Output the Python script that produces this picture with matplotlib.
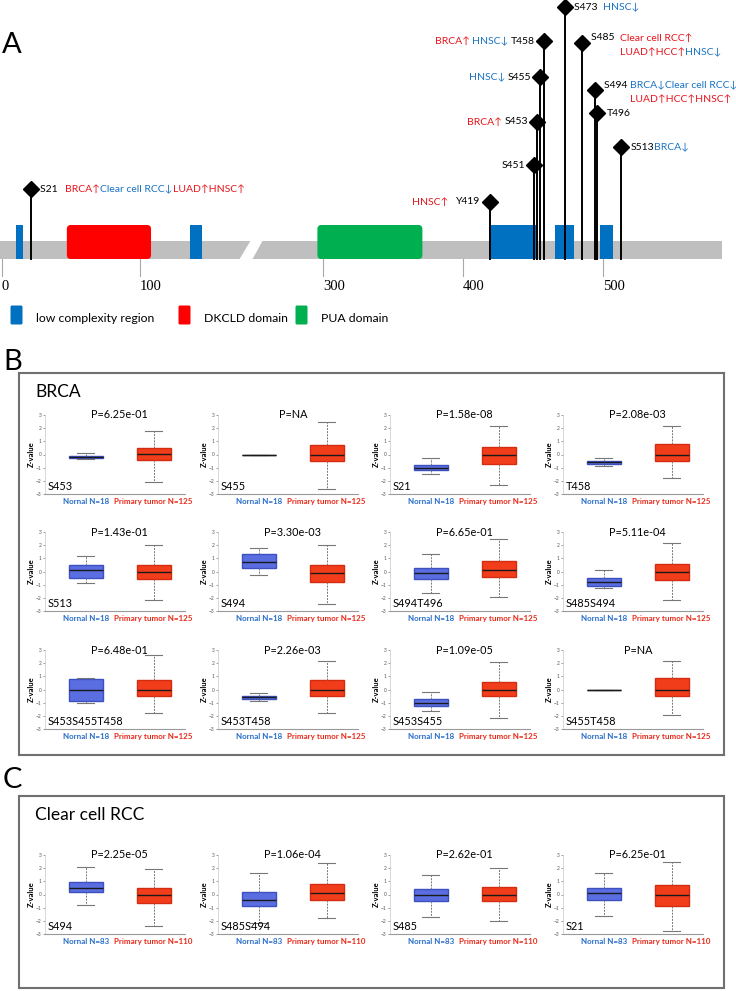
import matplotlib
matplotlib.use('Agg')
import matplotlib.pyplot as plt
from matplotlib.patches import Rectangle, FancyBboxPatch, Polygon
import numpy as np

plt.rcParams['font.family'] = ['Lato', 'DejaVu Sans']

W, H = 736, 991
RED = '#e8141c'
BLUE = '#1a73c2'

# ---- panel A data ----
sites = ['S21', 'Y419', 'S451', 'S453', 'S455', 'T458', 'S473', 'S485', 'S494', 'T496', 'S513']
site_pos = [21, 419, 451, 453, 455, 458, 473, 485, 494, 496, 513]
site_height = [52, 39, 76, 119, 164, 200, 234, 198, 151, 128, 94]

domain_names = ['low complexity region', 'DKCLD domain', 'PUA domain']
domain_colors = ['#0070c0', '#ff0000', '#00b050']
lcr_start = [10, 136, 420, 466, 498]
lcr_end = [15, 145, 453, 479, 507]
dkcld = (47, 108)
pua = (296, 371)
protein_len = 585
axis_ticks = [0, 100, 300, 400, 500]

# labels beside each diamond: (side, list of lines, each a list of (text, colour))
site_labels = {
    'S21': ('right', [[('S21   ', 'k'), ('BRCA↑', RED), ('Clear cell RCC↓', BLUE), ('LUAD↑HNSC↑', RED)]]),
    'Y419': ('left', [[('HNSC↑   ', RED), ('Y419', 'k')]]),
    'S451': ('left', [[('S451', 'k')]]),
    'S453': ('left', [[('BRCA↑ ', RED), ('S453', 'k')]]),
    'S455': ('left', [[('HNSC↓ ', BLUE), ('S455', 'k')]]),
    'T458': ('left', [[('BRCA↑ ', RED), ('HNSC↓ ', BLUE), ('T458', 'k')]]),
    'S473': ('right', [[('S473  ', 'k'), ('HNSC↓', BLUE)]]),
    'S485': ('right', [[('S485  ', 'k'), ('Clear cell RCC↑', RED)],
                       [('LUAD↑HCC↑', RED), ('HNSC↓', BLUE)]]),
    'S494': ('right', [[('S494 ', 'k'), ('BRCA↓Clear cell RCC↓', BLUE)],
                       [('LUAD↑HCC↑HNSC↑', RED)]]),
    'T496': ('right', [[('T496', 'k')]]),
    'S513': ('right', [[('S513', 'k'), ('BRCA↓', BLUE)]]),
}

# ---- panels B / C data ----
brca_sites = ['S453', 'S455', 'S21', 'T458', 'S513', 'S494', 'S494T496', 'S485S494',
              'S453S455T458', 'S453T458', 'S453S455', 'S455T458']
brca_p = ['P=6.25e-01', 'P=NA', 'P=1.58e-08', 'P=2.08e-03', 'P=1.43e-01', 'P=3.30e-03',
          'P=6.65e-01', 'P=5.11e-04', 'P=6.48e-01', 'P=2.26e-03', 'P=1.09e-05', 'P=NA']
# whislo, q1, med, q3, whishi
brca_normal = [(-0.35, -0.3, -0.2, -0.1, 0.1), (0, 0, 0, 0, 0), (-1.5, -1.2, -1.0, -0.8, -0.3),
               (-0.85, -0.75, -0.6, -0.5, -0.3), (-0.9, -0.5, 0.1, 0.5, 1.2), (-0.3, 0.3, 0.7, 1.3, 1.8),
               (-1.6, -0.6, -0.1, 0.3, 1.3), (-1.25, -1.1, -0.8, -0.5, 0.1), (-1.0, -0.9, 0.0, 0.8, 0.9),
               (-0.85, -0.75, -0.6, -0.5, -0.3), (-1.6, -1.25, -1.0, -0.75, -0.2), (0, 0, 0, 0, 0)]
brca_tumor = [(-2.1, -0.4, 0.05, 0.5, 1.8), (-2.6, -0.5, 0.0, 0.75, 2.5), (-2.3, -0.7, 0.0, 0.6, 2.2),
              (-1.8, -0.5, 0.0, 0.8, 2.2), (-2.2, -0.6, 0.0, 0.5, 2.0), (-2.5, -0.8, -0.1, 0.5, 2.0),
              (-1.9, -0.4, 0.1, 0.8, 2.5), (-2.15, -0.65, 0.0, 0.56, 2.15), (-1.8, -0.5, 0.0, 0.7, 2.6),
              (-1.8, -0.5, 0.0, 0.7, 2.2), (-2.2, -0.5, 0.0, 0.6, 2.1), (-1.9, -0.5, 0.0, 0.9, 2.2)]
brca_n = ('Nornal N=18', 'Primary tumor N=125')

rcc_sites = ['S494', 'S485S494', 'S485', 'S21']
rcc_p = ['P=2.25e-05', 'P=1.06e-04', 'P=2.62e-01', 'P=6.25e-01']
rcc_normal = [(-0.8, 0.16, 0.53, 0.98, 2.1), (-2.2, -0.9, -0.4, 0.2, 1.6),
              (-1.7, -0.5, 0.0, 0.4, 1.5), (-1.6, -0.4, 0.1, 0.5, 1.6)]
rcc_tumor = [(-2.4, -0.67, 0.0, 0.53, 1.9), (-1.8, -0.4, 0.1, 0.8, 2.4),
             (-2.0, -0.5, 0.0, 0.6, 2.0), (-2.8, -0.9, 0.0, 0.7, 2.5)]
rcc_n = ('Nornal N=83', 'Primary tumor N=110')


def px(l, t, w, h):
    return [l / W, 1 - (t + h) / H, w / W, h / H]


def res2x(v):
    # protein axis is broken between 100 and 300
    if v < 200:
        return 2 + 1.38 * v
    return 323 + 1.4 * (v - 300)


fig = plt.figure(figsize=(W / 100, H / 100), dpi=100)
r = fig.canvas.get_renderer()

# ================= panel A =================
axa = fig.add_axes(px(0, 0, W, 340))
axa.set_xlim(0, W)
axa.set_ylim(340, 0)
axa.axis('off')

bar_top, bar_bot = 241, 259
dom_top = 225
axa.add_patch(Rectangle((0, bar_top), res2x(protein_len), bar_bot - bar_top, color='#bfbfbf', lw=0))
axa.add_patch(Polygon([[251, bar_top - 1], [263, bar_top - 1], [252, bar_bot + 1], [239, bar_bot + 1]],
                      closed=True, color='white', lw=0))

for s, e in zip(lcr_start, lcr_end):
    axa.add_patch(Rectangle((res2x(s), dom_top), res2x(e) - res2x(s), bar_bot - dom_top,
                            color=domain_colors[0], lw=0))
for (s, e), c in zip([dkcld, pua], domain_colors[1:]):
    axa.add_patch(FancyBboxPatch((res2x(s) + 4, dom_top + 4), res2x(e) - res2x(s) - 8, bar_bot - dom_top - 8,
                                 boxstyle='round,pad=4', color=c, lw=0))

for t in axis_ticks:
    axa.plot([res2x(t), res2x(t)], [bar_bot, 276], color='#a8a8a8', lw=0.8)
    axa.text(res2x(t), 286, str(t), ha='left', va='center', fontsize=10.5,
             family='Liberation Serif')

for name, p, hgt in zip(sites, site_pos, site_height):
    x = res2x(p)
    y = bar_top - hgt
    axa.plot([x, x], [bar_bot, y], color='k', lw=1.4, zorder=3)
    axa.plot(x, y, marker='D', color='k', markersize=8, zorder=4)

    side, lines = site_labels[name]
    if len(lines) == 1:
        offs = [0]
    else:
        offs = [-5, 9]
    for li, (pieces, dy) in enumerate(zip(lines, offs)):
        if side == 'right':
            cx = x + 9
            if li > 0:
                cx = first_x
            for k, (txt, col) in enumerate(pieces):
                tt = axa.text(cx, y + dy, txt, color=col, fontsize=7.5, ha='left', va='center')
                bb = tt.get_window_extent(renderer=r)
                if li == 0 and k == 1:
                    first_x = cx
                cx = bb.x1
        else:
            cx = x - 9
            for txt, col in reversed(pieces):
                tt = axa.text(cx, y + dy, txt, color=col, fontsize=7.5, ha='right', va='center')
                bb = tt.get_window_extent(renderer=r)
                cx = bb.x0

# legend
leg_x = [10, 178, 295]
for lx, nm, col in zip(leg_x, domain_names, domain_colors):
    axa.add_patch(FancyBboxPatch((lx + 2, 307), 9, 16, boxstyle='round,pad=1.5', color=col, lw=0))
    axa.text(lx + 26, 319, nm, fontsize=8.8, va='center', ha='left')

axa.text(2, 45, 'A', fontsize=21, va='center', ha='left')

# ================= panels B and C =================
fig.text(3 / W, 1 - 362 / H, 'B', fontsize=21, va='center', ha='left')
fig.text(3 / W, 1 - 780 / H, 'C', fontsize=21, va='center', ha='left')

for top, bot, title in [(373, 755, 'BRCA'), (796, 988, 'Clear cell RCC')]:
    fr = fig.add_axes(px(19, top, 705, bot - top))
    fr.set_xticks([])
    fr.set_yticks([])
    fr.patch.set_alpha(0)
    for sp in fr.spines.values():
        sp.set_color('#707070')
        sp.set_linewidth(1.5)
    fig.text(35 / W, 1 - (top + 19) / H, title, fontsize=12.5, va='center', ha='left')

col_left = [45, 218, 390, 563]
axw, axh = 140, 79


def small_box(l, bottom, site, ptxt, nstat, tstat, nlab):
    ax = fig.add_axes(px(l, bottom - axh, axw, axh))
    stats = []
    for st in (nstat, tstat):
        lo, q1, md, q3, hi = st
        stats.append(dict(whislo=lo, q1=q1, med=md, q3=q3, whishi=hi, fliers=[]))
    bp = ax.bxp(stats, positions=[1, 2], widths=0.5, patch_artist=True, showfliers=False,
                whiskerprops=dict(color='#777777', lw=0.7, linestyle=(0, (2, 1.2))),
                capprops=dict(color='#777777', lw=0.8),
                medianprops=dict(color='#1a1a1a', lw=1.0))
    bp['boxes'][0].set_facecolor('#5a6ee2')
    bp['boxes'][0].set_edgecolor('#3d50c0')
    bp['boxes'][1].set_facecolor('#f23d1b')
    bp['boxes'][1].set_edgecolor('#d42c10')
    if nstat[0] == nstat[4]:
        bp['boxes'][0].set_edgecolor('#222222')
    ax.set_xlim(0.4, 2.46)
    ax.set_ylim(-3, 3)
    ax.set_yticks(range(-3, 4))
    ax.set_xticks([])
    ax.tick_params(axis='y', labelsize=3.5, length=1.5, width=0.4, pad=0.8, colors='#555555')
    for sp in ['top', 'right']:
        ax.spines[sp].set_visible(False)
    ax.spines['left'].set_color('#c8c8c8')
    ax.spines['left'].set_linewidth(0.5)
    ax.spines['bottom'].set_color('#999999')
    ax.spines['bottom'].set_linewidth(0.8)
    ax.set_ylabel('Z-value', fontsize=5.5, fontweight='bold', labelpad=1)
    ax.patch.set_alpha(0)
    ax.text(1.5, 3, ptxt, ha='center', va='center', fontsize=7.8)
    ax.text(0.02, 0.03, site, transform=ax.transAxes, ha='left', va='bottom', fontsize=7.8)
    ax.annotate(nlab[0], (1, -3), xytext=(0, -3), textcoords='offset points', ha='center', va='top',
                fontsize=5.8, color='#2b6fc9', fontweight='bold', annotation_clip=False)
    ax.annotate(nlab[1], (2, -3), xytext=(0, -3), textcoords='offset points', ha='center', va='top',
                fontsize=5.8, color='#e82a1a', fontweight='bold', annotation_clip=False)


row_bottom = [494, 611, 729]
for i in range(12):
    small_box(col_left[i % 4], row_bottom[i // 4], brca_sites[i], brca_p[i],
              brca_normal[i], brca_tumor[i], brca_n)
for i in range(4):
    small_box(col_left[i], 934, rcc_sites[i], rcc_p[i], rcc_normal[i], rcc_tumor[i], rcc_n)

fig.savefig('out.png', dpi=100)
